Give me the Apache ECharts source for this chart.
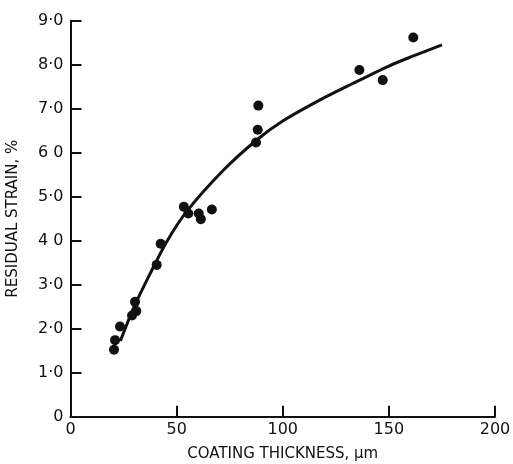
<!DOCTYPE html>
<html>
<head>
<meta charset="utf-8">
<script src="https://cdn.jsdelivr.net/npm/echarts@6/dist/echarts.min.js"></script>
<style>
  html, body { margin: 0; padding: 0; background: #fff; }
  #chart { width: 513px; height: 464px; }
</style>
</head>
<body>
<div id="chart"></div>
<script>
// measured points: coating thickness (µm) vs residual strain (%)
const thickness = [20.5, 21.0, 23.3, 29.0, 30.4, 31.0, 40.6, 42.5,
                   53.4, 55.5, 60.4, 61.4, 66.6, 87.4, 88.2, 88.5,
                   136.1, 147.1, 161.5];
const strain = [1.52, 1.74, 2.05, 2.30, 2.61, 2.40, 3.45, 3.93,
                4.77, 4.62, 4.62, 4.49, 4.71, 6.23, 6.52, 7.07,
                7.88, 7.65, 8.62];

// fitted curve
const curveX = [23.5, 30, 37, 45, 54.5, 72, 88, 100, 117.6, 132, 150, 160, 175];
const curveY = [1.72, 2.5, 3.2, 3.95, 4.65, 5.6, 6.3, 6.72, 7.2, 7.55, 7.97, 8.17, 8.45];

const yTickLabels = {0: '0', 1: '1·0', 2: '2·0', 3: '3·0', 4: '4 0',
                     5: '5·0', 6: '6 0', 7: '7·0', 8: '8·0', 9: '9·0'};

const FONT = 'DejaVu Sans';

const chart = echarts.init(document.getElementById('chart'));

chart.setOption({
  animation: false,
  backgroundColor: '#fff',
  grid: { left: 70.5, right: 18, top: 20.7, bottom: 47.3, containLabel: false, outerBoundsMode: 'none' },
  xAxis: {
    type: 'value',
    min: 0, max: 200, interval: 50,
    name: 'COATING THICKNESS, μm',
    nameLocation: 'middle',
    nameGap: 30,
    nameTextStyle: { fontFamily: FONT, fontSize: 15, color: '#111' },
    axisLine: { show: true, lineStyle: { color: '#111', width: 2 } },
    axisTick: { show: true, inside: true, length: 11, lineStyle: { color: '#111', width: 2 } },
    axisLabel: { fontFamily: FONT, fontSize: 16, color: '#111', margin: 5 },
    splitLine: { show: false }
  },
  yAxis: {
    type: 'value',
    min: 0, max: 9, interval: 1,
    name: 'RESIDUAL STRAIN, %',
    nameLocation: 'middle',
    nameGap: 50,
    nameTextStyle: { fontFamily: FONT, fontSize: 15, color: '#111' },
    axisLine: { show: true, lineStyle: { color: '#111', width: 2 } },
    axisTick: { show: true, inside: true, length: 11, lineStyle: { color: '#111', width: 2 } },
    axisLabel: {
      fontFamily: FONT, fontSize: 16, color: '#111', margin: 7,
      formatter: function (v) { return yTickLabels[v]; }
    },
    splitLine: { show: false }
  },
  series: [
    {
      type: 'line',
      data: curveX.map((x, i) => [x, curveY[i]]),
      smooth: 0.3,
      showSymbol: false,
      lineStyle: { color: '#111', width: 3 },
      z: 2
    },
    {
      type: 'scatter',
      data: thickness.map((x, i) => [x, strain[i]]),
      symbol: 'circle',
      symbolSize: 10,
      itemStyle: { color: '#111', opacity: 1 },
      z: 3
    }
  ]
});
</script>
</body>
</html>
